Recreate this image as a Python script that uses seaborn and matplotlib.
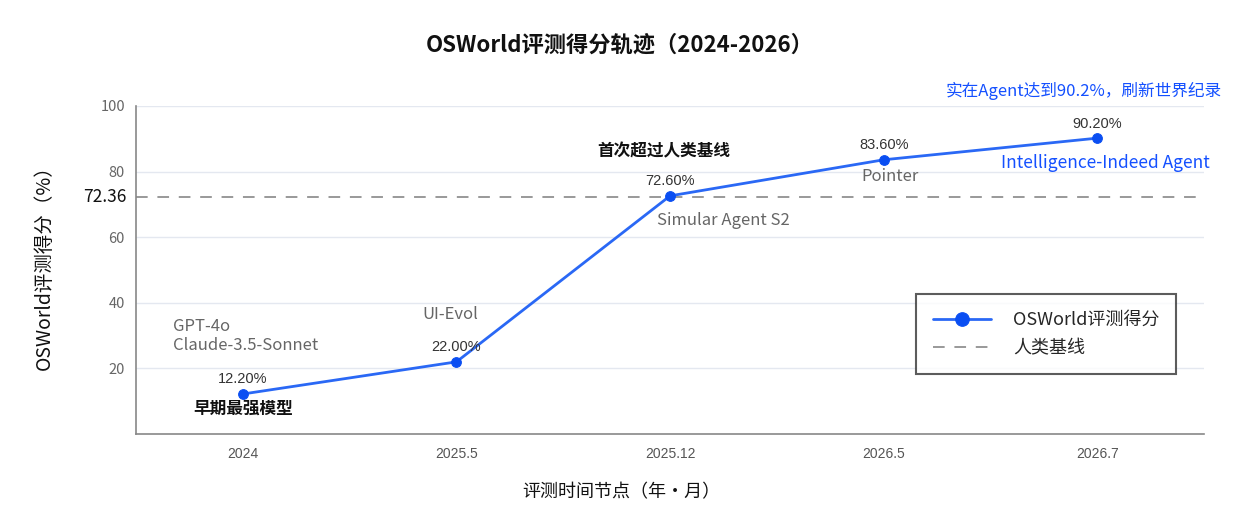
import pandas as pd
import matplotlib
matplotlib.use("Agg")
import matplotlib.pyplot as plt
import seaborn as sns

# chart data
periods = ["2024", "2025.5", "2025.12", "2026.5", "2026.7"]
scores = [12.2, 22.0, 72.6, 83.6, 90.2]
models = ["GPT-4o\nClaude-3.5-Sonnet", "UI-Evol", "Simular Agent S2", "Pointer", "Intelligence-Indeed Agent"]
human_baseline = 72.36
y_ticks = [20, 40, 60, 80, 100]

df = pd.DataFrame({"period": periods, "score": scores})

sns.set_theme(style="white")
plt.rcParams["font.family"] = ["Noto Sans CJK SC", "DejaVu Sans"]
plt.rcParams["axes.unicode_minus"] = False

fig = plt.figure(figsize=(12.4, 5.25), dpi=100)
ax = fig.add_axes([0.1097, 0.1733, 0.8613, 0.6248])

line_c = "#2a68f5"
dot_c = "#0a4ef2"
grey = "#666666"

# grid
for t in y_ticks:
    ax.axhline(t, color="#e4e8f0", lw=1, zorder=0)

ax.axhline(human_baseline, color="#999999", lw=1.4, ls=(0, (6, 5)), zorder=1,
           label="人类基线")
sns.lineplot(data=df, x="period", y="score", sort=False, color=line_c, lw=2,
             marker="o", markersize=7, markerfacecolor=dot_c, markeredgecolor=dot_c,
             label="OSWorld评测得分", ax=ax, zorder=3)

ax.set_xlim(-0.5, len(periods) - 0.5)
ax.set_ylim(0, 100)

# value labels
pct_font = ["Liberation Sans", "DejaVu Sans"]
for i, v in enumerate(scores):
    ax.annotate(f"{v:.2f}%", (i, v), xytext=(0, 5.5), textcoords="offset points",
                ha="center", va="bottom", fontsize=10.5, color="#333333", family=pct_font)

# model names
ax.text(-0.325, 30.0, models[0], ha="left", va="center", fontsize=12, color=grey,
        linespacing=1.15)
ax.text(0.97, 36.5, models[1], ha="center", va="center", fontsize=12, color=grey)
ax.text(2.248, 65.2, models[2], ha="center", va="center", fontsize=12, color=grey)
ax.text(3.03, 78.4, models[3], ha="center", va="center", fontsize=12, color=grey)
ax.text(4.04, 82.6, models[4], ha="center", va="center", fontsize=12.5, color="#1450ff")

# milestones
ax.text(0.0, 7.6, "早期最强模型", ha="center", va="center", fontsize=12,
        fontweight="bold", color="#111111")
ax.text(1.97, 86.3, "首次超过人类基线", ha="center", va="center", fontsize=12,
        fontweight="bold", color="#111111")
ax.text(1.017, 1.018, "实在Agent达到90.2%，刷新世界纪录", transform=ax.transAxes,
        ha="right", va="bottom", fontsize=12, color="#1450ff")

# axes styling
ax.set_yticks(y_ticks)
ax.set_xticks(range(len(periods)))
ax.set_xticklabels(periods, family=pct_font, fontsize=10, color="#555555")
ax.set_xticks([i + 0.5 for i in range(len(periods) - 1)], minor=True)
ax.tick_params(axis="x", which="major", length=0, pad=9)
ax.tick_params(axis="x", which="minor", direction="in", length=5, color="#888888")
ax.tick_params(axis="y", direction="in", length=5, color="#888888", labelsize=10.5,
               labelcolor="#666666", pad=8)
ax.text(-0.009, human_baseline, f"{human_baseline:.2f}", transform=ax.get_yaxis_transform(),
        ha="right", va="center", fontsize=12.5, color="#111111")

for s in ["top", "right"]:
    ax.spines[s].set_visible(False)
for s in ["left", "bottom"]:
    ax.spines[s].set_color("#888888")
    ax.spines[s].set_linewidth(1.2)

ax.set_xlabel("评测时间节点（年·月）", fontsize=13, color="#111111")
ax.set_ylabel("OSWorld评测得分（%）", fontsize=14, color="#111111")
ax.xaxis.set_label_coords(0.454, -0.149)
ax.yaxis.set_label_coords(-0.076, 0.524)
fig.text(0.5, 0.914, "OSWorld评测得分轨迹（2024-2026）", ha="center", va="center",
         fontsize=16, fontweight="bold", color="#111111")

handles, labels = ax.get_legend_handles_labels()
order = [labels.index("OSWorld评测得分"), labels.index("人类基线")]
leg = ax.legend([handles[i] for i in order], [labels[i] for i in order],
                loc="lower right", bbox_to_anchor=(0.974, 0.183), fontsize=13,
                frameon=True, fancybox=False, edgecolor="#333333", borderpad=0.95,
                borderaxespad=0, handlelength=3.2, handletextpad=1.2, labelspacing=0.55,
                markerscale=1.4)
leg.get_frame().set_linewidth(1.5)

fig.savefig("out.png", dpi=100)
